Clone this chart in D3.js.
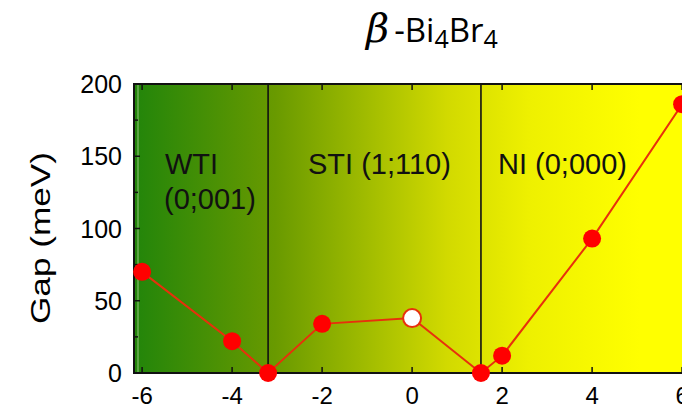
<!DOCTYPE html>
<html lang="en">
<head>
    <meta charset="UTF-8">
    <title>beta Bi4Br4 gap</title>
    <script src="https://cdn.jsdelivr.net/npm/d3@7"></script>
    <style>
        body { margin: 0; background: #fff; }
        svg { display: block; }
    </style>
</head>
<body>
<svg class="gap"></svg>
<script>
    const width = 682;
    const height = 410;

    // data
    const strain = [-6, -4, -3.2, -2, 0, 1.53, 2, 4, 6];
    const gap = [70, 22, 0, 34, 38, 0, 12, 93, 186];
    const hollow = [false, false, false, false, true, false, false, false, false];
    const phaseBounds = [-3.2, 1.53];
    const xTicks = [-6, -4, -2, 0, 2, 4, 6];
    const yTicks = [0, 50, 100, 150, 200];
    const yMinor = [25, 75, 125, 175];

    const plotL = 134, plotR = 692, plotT = 84, plotB = 373;

    let svg = d3.select(".gap").attr("width", width).attr("height", height);

    let x = d3.scaleLinear().domain([-6.18, 6.22]).range([plotL, plotR]);
    let y = d3.scaleLinear().domain([0, 200]).range([plotB, plotT]);

    let defs = svg.append("defs");
    let grad = defs.append("linearGradient").attr("id", "bg")
        .attr("gradientUnits", "userSpaceOnUse")
        .attr("x1", plotL).attr("x2", 640).attr("y1", 0).attr("y2", 0);
    grad.append("stop").attr("offset", "0%").attr("stop-color", "#22850a");
    grad.append("stop").attr("offset", "28%").attr("stop-color", "#699a00");
    grad.append("stop").attr("offset", "62%").attr("stop-color", "#d2da00");
    grad.append("stop").attr("offset", "78%").attr("stop-color", "#eef000");
    grad.append("stop").attr("offset", "100%").attr("stop-color", "#ffff00");

    svg.append("rect")
        .attr("x", plotL).attr("y", plotT)
        .attr("width", plotR - plotL).attr("height", plotB - plotT)
        .attr("fill", "url(#bg)");

    // faint light line near the left edge
    svg.append("line")
        .attr("x1", plotL + 4).attr("x2", plotL + 4)
        .attr("y1", plotT).attr("y2", plotB)
        .attr("stroke", "#cfe8c0").attr("stroke-opacity", 0.55).attr("stroke-width", 1.2);

    // phase boundaries
    svg.selectAll(".bound").data(phaseBounds).enter().append("line")
        .attr("x1", d => x(d)).attr("x2", d => x(d))
        .attr("y1", plotT).attr("y2", plotB)
        .attr("stroke", "#111").attr("stroke-width", 1.6);

    // ticks (inward, mirrored on top)
    let tk = svg.append("g").attr("stroke", "#111").attr("stroke-width", 1.5);
    xTicks.forEach(t => {
        tk.append("line").attr("x1", x(t)).attr("x2", x(t)).attr("y1", plotB).attr("y2", plotB - 6);
        tk.append("line").attr("x1", x(t)).attr("x2", x(t)).attr("y1", plotT).attr("y2", plotT + 6);
    });
    yTicks.forEach(t => {
        tk.append("line").attr("x1", plotL).attr("x2", plotL + 6).attr("y1", y(t)).attr("y2", y(t));
    });
    yMinor.forEach(t => {
        tk.append("line").attr("x1", plotL).attr("x2", plotL + 4).attr("y1", y(t)).attr("y2", y(t));
    });

    // frame
    svg.append("path")
        .attr("d", `M${plotR},${plotT}H${plotL}V${plotB}H${plotR}`)
        .attr("fill", "none").attr("stroke", "#111").attr("stroke-width", 2);

    // tick labels
    svg.selectAll(".xl").data(xTicks).enter().append("text")
        .attr("x", d => x(d)).attr("y", 404)
        .attr("text-anchor", "middle")
        .attr("font-family", "Liberation Sans, Arial, sans-serif")
        .attr("font-size", 24)
        .text(d => d);

    svg.selectAll(".yl").data(yTicks).enter().append("text")
        .attr("x", 122).attr("y", d => y(d) + 9)
        .attr("text-anchor", "end")
        .attr("font-family", "Liberation Sans, Arial, sans-serif")
        .attr("font-size", 25)
        .text(d => d);

    svg.append("text")
        .attr("transform", "translate(50,238) rotate(-90)")
        .attr("text-anchor", "middle")
        .attr("font-family", "Liberation Sans, Arial, sans-serif")
        .attr("font-size", 28)
        .attr("textLength", 172)
        .attr("lengthAdjust", "spacingAndGlyphs")
        .text("Gap (meV)");

    // phase labels
    const lab = (tx, ty, s) => svg.append("text")
        .attr("x", tx).attr("y", ty)
        .attr("font-family", "Liberation Sans, Arial, sans-serif")
        .attr("font-size", 29).attr("fill", "#111").text(s);
    lab(165, 174, "WTI");
    lab(164, 209, "(0;001)");
    lab(308, 174, "STI (1;110)");
    lab(498, 174, "NI (0;000)");

    // title
    let title = svg.append("text")
        .attr("x", 366).attr("y", 42)
        .attr("font-family", "Open Sans, Noto Sans, sans-serif")
        .attr("font-size", 33);
    title.append("tspan").attr("font-family", "DejaVu Serif, serif").attr("font-style", "italic")
        .attr("font-size", 40).text("β");
    title.append("tspan").attr("dx", 5).text("-Bi");
    title.append("tspan").attr("font-size", 25).attr("dy", 6).text("4");
    title.append("tspan").attr("dy", -6).text("Br");
    title.append("tspan").attr("font-size", 25).attr("dy", 6).text("4");

    // data line + points
    let pts = strain.map((s, i) => ({ s: s, g: gap[i], h: hollow[i] }));
    svg.append("path")
        .datum(pts)
        .attr("d", d3.line().x(d => x(d.s)).y(d => y(d.g)))
        .attr("fill", "none").attr("stroke", "#e8300c").attr("stroke-width", 2);

    svg.selectAll(".pt").data(pts).enter().append("circle")
        .attr("cx", d => x(d.s)).attr("cy", d => y(d.g))
        .attr("r", 9)
        .attr("fill", d => d.h ? "#fff" : "#ff0000")
        .attr("stroke", d => d.h ? "#e8300c" : "none")
        .attr("stroke-width", 2);
</script>
</body>
</html>
